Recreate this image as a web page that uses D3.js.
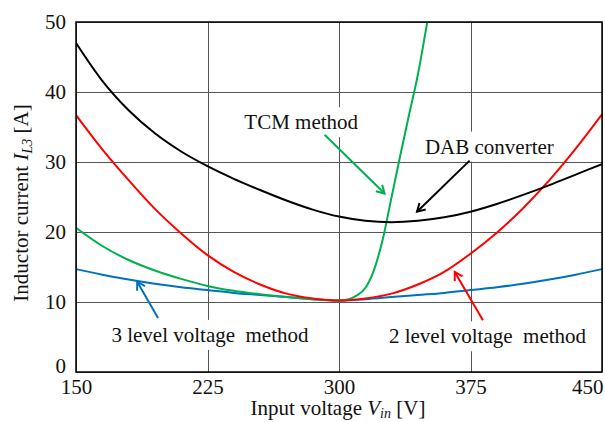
<!DOCTYPE html>
<html>
<head>
<meta charset="utf-8">
<script src="https://cdn.jsdelivr.net/npm/d3@7"></script>
<style>
  body { margin: 0; background: #fff; }
  svg { font-family: "Liberation Serif", "Times New Roman", serif; }
  .grid line { stroke: #555; stroke-width: 1; shape-rendering: crispEdges; }
  .grid path { display: none; }
  .tick text { font-size: 21px; fill: #111; font-family: "Liberation Serif", serif; }
  .curve { fill: none; stroke-width: 2; }
</style>
</head>
<body>
<svg id="chart" width="605" height="422"></svg>
<script>
// input voltage samples (V) shared by DAB, 2 level and 3 level curves
const vin = [150, 165, 180, 195, 210, 225, 240, 255, 270, 285, 300, 315, 330, 345, 360, 375, 390, 405, 420, 435, 450];
const dabCurrent = [47, 41.6, 37.4, 34.1, 31.5, 29.4, 27.6, 26.0, 24.5, 23.2, 22.2, 21.6, 21.4, 21.6, 22.1, 22.9, 24.0, 25.3, 26.7, 28.2, 29.7];
const twoLevelCurrent = [36.7, 31.8, 27.4, 23.3, 19.8, 16.7, 14.3, 12.5, 11.2, 10.5, 10.2, 10.5, 11.2, 12.5, 14.3, 16.9, 19.9, 23.4, 27.4, 31.9, 36.8];
const threeLevelCurrent = [14.7, 13.9, 13.2, 12.6, 12.1, 11.7, 11.3, 11.0, 10.7, 10.4, 10.2, 10.4, 10.7, 11.0, 11.3, 11.7, 12.1, 12.6, 13.2, 13.9, 14.7];

// TCM curve has its own voltage samples (steep rise after 300 V)
const vinTcm = [150, 165, 180, 195, 210, 225, 240, 255, 270, 285, 300, 305, 310, 315, 320, 325, 330, 335, 340, 345, 350, 355];
const tcmCurrent = [20.6, 18.0, 16.0, 14.5, 13.3, 12.3, 11.6, 11.1, 10.7, 10.4, 10.2, 10.35, 10.9, 12.0, 14.6, 19.0, 25.0, 31.0, 36.8, 42.5, 49.5, 57];

const xTicks = [150, 225, 300, 375, 450];
const yTicks = [0, 10, 20, 30, 40, 50];

const margin = { top: 22, right: 3, bottom: 50, left: 76 };
const W = 605, H = 422;
const width = W - margin.left - margin.right;
const height = H - margin.top - margin.bottom;

const svg = d3.select('#chart');
const g = svg.append('g').attr('transform', `translate(${margin.left},${margin.top})`);

const x = d3.scaleLinear().domain([150, 450]).range([0, width]);
const y = d3.scaleLinear().domain([0, 50]).range([height, 0]);

// grid + tick labels
const xAxisG = g.append('g').attr('class', 'grid')
  .attr('transform', `translate(0,${height})`)
  .call(d3.axisBottom(x).tickValues(xTicks).tickSize(-height).tickPadding(7).tickFormat(d3.format('d')));
// last label sits flush with the right edge, like the original
xAxisG.selectAll('.tick text').filter(d => d === 450)
  .attr('text-anchor', 'end').attr('dx', 1);

const yAxisG = g.append('g').attr('class', 'grid')
  .call(d3.axisLeft(y).tickValues(yTicks).tickSize(-width).tickPadding(10).tickFormat(d3.format('d')));
// the zero label is lifted a little above the bottom edge
yAxisG.selectAll('.tick text').filter(d => d === 0).attr('y', -6);

g.append('clipPath').attr('id', 'plot-clip')
  .append('rect').attr('width', width).attr('height', height);

const line = d3.line()
  .x(d => x(d[0]))
  .y(d => y(d[1]))
  .curve(d3.curveMonotoneX);

const series = [
  { xs: vin, ys: threeLevelCurrent, color: '#0070C0' },
  { xs: vinTcm, ys: tcmCurrent, color: '#00B050' },
  { xs: vin, ys: twoLevelCurrent, color: '#FF0000' },
  { xs: vin, ys: dabCurrent, color: '#000000' },
];

const curves = g.append('g').attr('clip-path', 'url(#plot-clip)');
series.forEach(s => {
  curves.append('path')
    .attr('class', 'curve')
    .attr('stroke', s.color)
    .attr('d', line(s.xs.map((v, i) => [v, s.ys[i]])));
});

// frame
g.append('rect')
  .attr('width', width).attr('height', height)
  .attr('fill', 'none').attr('stroke', '#000').attr('stroke-width', 1.5);

// annotation labels (data coords: voltage, current at baseline)
const labels = [
  { text: 'TCM method', v: 246, i: 34.7 },
  { text: 'DAB converter', v: 349, i: 31.2 },
  { text: '3 level voltage\u00a0 method', v: 170.2, i: 4.3 },
  { text: '2 level voltage\u00a0 method', v: 328.5, i: 4.1 },
];

labels.forEach(l => {
  const grp = g.append('g');
  const t = grp.append('text')
    .attr('x', x(l.v)).attr('y', y(l.i))
    .attr('font-size', 21).attr('fill', '#111')
    .text(l.text);
  const b = t.node().getBBox();
  grp.insert('rect', 'text')
    .attr('x', b.x - 4).attr('y', b.y - 3)
    .attr('width', b.width + 8).attr('height', b.height + 6)
    .attr('fill', '#fff');
});

// arrows: from -> tip, in data coords
const arrows = [
  { from: [291.8, 33.9], to: [326, 25.5], color: '#00B050' },
  { from: [374.5, 30.2], to: [344.5, 22.9], color: '#000000' },
  { from: [382.1, 7.4], to: [366, 14.3], color: '#FF0000' },
  { from: [196.8, 7.7], to: [184.9, 12.9], color: '#0070C0' },
];

arrows.forEach(a => {
  const x1 = x(a.from[0]), y1 = y(a.from[1]);
  const x2 = x(a.to[0]), y2 = y(a.to[1]);
  const ang = Math.atan2(y2 - y1, x2 - x1);
  const len = 9, spread = Math.PI / 6;
  const p1 = [x2 - len * Math.cos(ang - spread), y2 - len * Math.sin(ang - spread)];
  const p2 = [x2 - len * Math.cos(ang + spread), y2 - len * Math.sin(ang + spread)];
  g.append('line')
    .attr('x1', x1).attr('y1', y1).attr('x2', x2).attr('y2', y2)
    .attr('stroke', a.color).attr('stroke-width', 2);
  g.append('path')
    .attr('d', `M${p1[0]},${p1[1]}L${x2},${y2}L${p2[0]},${p2[1]}`)
    .attr('fill', 'none').attr('stroke', a.color).attr('stroke-width', 2);
});

// axis titles
const xTitle = svg.append('text')
  .attr('x', margin.left + width / 2 - 1).attr('y', 415)
  .attr('text-anchor', 'middle').attr('font-size', 21).attr('fill', '#111');
xTitle.append('tspan').text('Input voltage ');
xTitle.append('tspan').attr('font-style', 'italic').text('V');
xTitle.append('tspan').attr('font-style', 'italic').attr('font-size', 14).attr('dy', 3).text('in');
xTitle.append('tspan').attr('dy', -3).text(' [V]');

const yTitle = svg.append('text')
  .attr('transform', 'translate(28,203) rotate(-90)')
  .attr('text-anchor', 'middle').attr('font-size', 21).attr('fill', '#111');
yTitle.append('tspan').text('Inductor current ');
yTitle.append('tspan').attr('font-style', 'italic').text('I');
yTitle.append('tspan').attr('font-style', 'italic').attr('font-size', 14).attr('dy', 4).text('L3');
yTitle.append('tspan').attr('dy', -4).text(' [A]');
</script>
</body>
</html>
